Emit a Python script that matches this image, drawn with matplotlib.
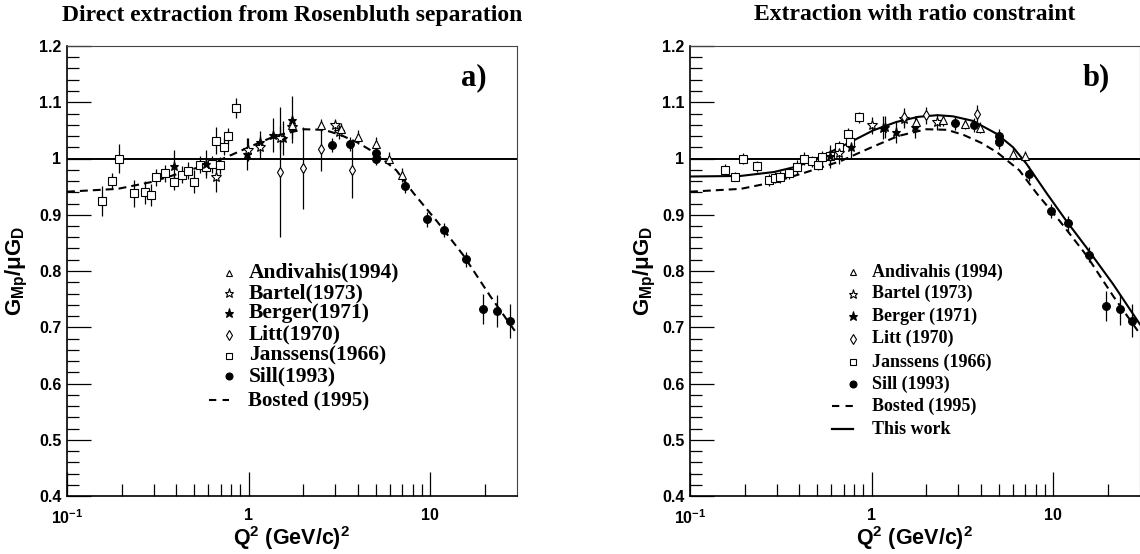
import matplotlib
matplotlib.use("Agg")
import matplotlib.pyplot as plt
from matplotlib.ticker import FixedLocator, FixedFormatter, NullFormatter

plt.rcParams["font.family"] = ["Liberation Sans", "DejaVu Sans"]
plt.rcParams["mathtext.fontset"] = "custom"
plt.rcParams["mathtext.rm"] = "Liberation Sans:bold"
plt.rcParams["mathtext.it"] = "Liberation Sans:bold"
plt.rcParams["mathtext.bf"] = "Liberation Sans:bold"

# ── Data ─────────────────────────────────────────────────────────────────────
# panel a) direct Rosenbluth extraction
a_janssens_x = [0.155, 0.177, 0.194, 0.234, 0.270, 0.290, 0.310, 0.347, 0.390, 0.430,
                0.463, 0.502, 0.540, 0.582, 0.626, 0.660, 0.698, 0.731, 0.772, 0.851]
a_janssens_y = [0.925, 0.960, 1.000, 0.938, 0.940, 0.935, 0.967, 0.974, 0.959, 0.971,
                0.978, 0.959, 0.989, 0.985, 0.990, 1.032, 0.988, 1.021, 1.040, 1.090]
a_janssens_e = [0.027, 0.015, 0.025, 0.024, 0.020, 0.020, 0.015, 0.015, 0.015, 0.015,
                0.015, 0.020, 0.015, 0.015, 0.015, 0.024, 0.015, 0.015, 0.015, 0.018]

a_berger_x = [0.388, 0.580, 0.975, 1.15, 1.37, 1.54, 1.74]
a_berger_y = [0.986, 0.990, 1.008, 1.029, 1.042, 1.037, 1.069]
a_berger_e = [0.030, 0.025, 0.028, 0.020, 0.030, 0.030, 0.042]

a_bartel_x = [0.660, 0.995, 1.16, 1.49, 1.74, 2.97, 3.14]
a_bartel_y = [0.967, 1.016, 1.020, 1.037, 1.056, 1.059, 1.047]
a_bartel_e = [0.027, 0.020, 0.020, 0.020, 0.020, 0.012, 0.012]

a_litt_x = [1.49, 2.00, 2.49, 3.72]
a_litt_y = [0.976, 0.983, 1.017, 0.979]
a_litt_e = [0.115, 0.073, 0.040, 0.050]

a_andivahis_x = [1.74, 2.49, 3.24, 4.01, 5.00, 5.94, 6.98]
a_andivahis_y = [1.060, 1.059, 1.052, 1.038, 1.026, 1.000, 0.971]
a_andivahis_e = [0.012, 0.012, 0.012, 0.012, 0.012, 0.012, 0.012]

a_sill_x = [2.86, 3.61, 5.02, 5.02, 7.28, 9.57, 11.9, 15.7, 19.4, 23.2, 27.4]
a_sill_y = [1.024, 1.026, 1.009, 1.000, 0.951, 0.892, 0.873, 0.821, 0.732, 0.729, 0.711]
a_sill_e = [0.012, 0.012, 0.012, 0.012, 0.013, 0.013, 0.013, 0.013, 0.027, 0.028, 0.030]

# panel b) extraction with the ratio constraint
b_janssens_x = [0.156, 0.178, 0.195, 0.233, 0.271, 0.294, 0.313, 0.351, 0.390, 0.426,
                0.468, 0.505, 0.535, 0.590, 0.664, 0.744, 0.762, 0.855]
b_janssens_y = [0.980, 0.968, 1.000, 0.986, 0.962, 0.966, 0.967, 0.974, 0.985, 1.000,
                0.995, 0.989, 1.002, 1.005, 1.020, 1.043, 1.030, 1.073]
b_janssens_e = [0.010, 0.008, 0.010, 0.010, 0.010, 0.010, 0.010, 0.010, 0.012, 0.012,
                0.010, 0.010, 0.012, 0.012, 0.012, 0.012, 0.012, 0.010]

b_berger_x = [0.590, 0.766, 1.16, 1.18, 1.37, 1.73]
b_berger_y = [1.004, 1.020, 1.055, 1.056, 1.047, 1.056]
b_berger_e = [0.020, 0.020, 0.020, 0.020, 0.020, 0.020]

b_bartel_x = [0.660, 1.00, 1.51, 2.30]
b_bartel_y = [1.010, 1.059, 1.070, 1.065]
b_bartel_e = [0.020, 0.015, 0.015, 0.015]

b_litt_x = [1.51, 2.00, 3.78]
b_litt_y = [1.074, 1.077, 1.080]
b_litt_e = [0.015, 0.015, 0.015]

b_andivahis_x = [1.75, 2.48, 3.26, 3.95, 5.00, 6.00, 6.98]
b_andivahis_y = [1.065, 1.068, 1.062, 1.055, 1.038, 1.008, 1.004]
b_andivahis_e = [0.010, 0.010, 0.010, 0.010, 0.010, 0.010, 0.010]

b_sill_x = [2.87, 3.66, 5.02, 5.02, 7.37, 9.65, 12.1, 15.8, 19.6, 23.2, 27.2]
b_sill_y = [1.063, 1.060, 1.040, 1.029, 0.973, 0.907, 0.885, 0.829, 0.738, 0.732, 0.712]
b_sill_e = [0.012, 0.012, 0.012, 0.012, 0.013, 0.013, 0.013, 0.013, 0.027, 0.028, 0.030]

# fit curves
bosted_x = [0.10, 0.19, 0.29, 0.44, 0.67, 1.00, 1.40, 2.00, 2.60, 3.20, 4.00, 4.90,
            6.50, 8.10, 10.9, 15.2, 21.4, 30.0]
bosted_y = [0.941, 0.946, 0.958, 0.976, 0.995, 1.020, 1.040, 1.052, 1.051, 1.042, 1.028, 1.011,
            0.979, 0.938, 0.888, 0.828, 0.755, 0.688]
thiswork_x = [0.10, 0.19, 0.29, 0.39, 0.54, 0.73, 1.02, 1.37, 1.80, 2.30, 2.80,
              3.60, 4.87, 6.00, 7.10, 9.20, 11.8, 15.2, 21.4, 30.0]
thiswork_y = [0.968, 0.969, 0.976, 0.986, 1.005, 1.026, 1.050, 1.065, 1.074, 1.077, 1.075,
              1.067, 1.044, 1.020, 0.991, 0.938, 0.889, 0.842, 0.776, 0.705]

x_ticklabels = [r"$10^{-1}$", "1", "10"]
y_ticks = [0.4, 0.5, 0.6, 0.7, 0.8, 0.9, 1.0, 1.1, 1.2]
y_ticklabels = ["0.4", "0.5", "0.6", "0.7", "0.8", "0.9", "1", "1.1", "1.2"]

STYLE = {  # marker, facecolor, size
    "andivahis": ("^", "white", 5.5),
    "bartel": ("*", "white", 7.5),
    "berger": ("*", "black", 6.5),
    "litt": ("d", "white", 5.0),
    "janssens": ("s", "white", 6.0),
    "sill": ("o", "black", 5.6),
}
DASH = (0, (3.8, 2.4))

W, H = 1140, 554
fig = plt.figure(figsize=(W / 100, H / 100), dpi=100)
ax_a = fig.add_axes([67 / W, 58 / H, 450 / W, 450 / H])
ax_b = fig.add_axes([690 / W, 58 / H, 450 / W, 450 / H])


def style_axes(ax):
    ax.set_xscale("log")
    ax.set_xlim(0.1, 30)
    ax.set_ylim(0.4, 1.2)
    ax.xaxis.set_major_locator(FixedLocator([0.1, 1, 10]))
    ax.xaxis.set_major_formatter(FixedFormatter(x_ticklabels))
    minors = [m * d for d in (0.1, 1, 10) for m in range(2, 10) if m * d < 30]
    ax.xaxis.set_minor_locator(FixedLocator(minors))
    ax.xaxis.set_minor_formatter(NullFormatter())
    ax.yaxis.set_major_locator(FixedLocator(y_ticks))
    ax.yaxis.set_major_formatter(FixedFormatter(y_ticklabels))
    ax.yaxis.set_minor_locator(FixedLocator([0.4 + 0.02 * i for i in range(41)]))
    ax.tick_params(which="both", direction="in", top=False, right=False, width=0.9)
    ax.tick_params(which="major", length=17.5, labelsize=11.5)
    ax.tick_params(which="minor", length=8.8)
    ax.tick_params(axis="x", which="major", pad=9)
    ax.tick_params(axis="y", which="major", pad=4)
    for lab in ax.get_xticklabels() + ax.get_yticklabels():
        lab.set_fontweight("bold")
    for s in ("left", "bottom"):
        ax.spines[s].set_linewidth(1.2)
    for s in ("top", "right"):
        ax.spines[s].set_linewidth(0.8)
        ax.spines[s].set_color("#444444")
    ax.axhline(1.0, color="black", lw=1.4, zorder=1)
    ax.text(0.5, -0.093, r"Q$^{2}$ (GeV/c)$^{2}$", transform=ax.transAxes,
            ha="center", va="center", fontsize=15.5, fontweight="bold")


def draw_points(ax, key, x, y, e):
    mk, fc, ms = STYLE[key]
    ax.errorbar(x, y, yerr=e, fmt=mk, mfc=fc, mec="black", mew=0.8, ms=ms,
                ecolor="black", elinewidth=0.9, capsize=0, zorder=3)


def legend_row(ax, yf, key, label, fs, xm, xt):
    mk, fc, _ = STYLE[key]
    ax.plot([xm], [yf], marker=mk, mfc=fc, mec="black", mew=0.8,
            ms=5 if mk != "*" else 6.5, ls="none", transform=ax.transAxes, clip_on=False)
    ax.text(xt, yf, label, transform=ax.transAxes, ha="left", va="center",
            fontsize=fs, fontweight="bold", family="Liberation Serif")


for ax in (ax_a, ax_b):
    style_axes(ax)

# panel a
ax_a.plot(bosted_x, bosted_y, color="black", lw=1.5, ls=DASH, zorder=2)
draw_points(ax_a, "janssens", a_janssens_x, a_janssens_y, a_janssens_e)
draw_points(ax_a, "berger", a_berger_x, a_berger_y, a_berger_e)
draw_points(ax_a, "bartel", a_bartel_x, a_bartel_y, a_bartel_e)
draw_points(ax_a, "litt", a_litt_x, a_litt_y, a_litt_e)
draw_points(ax_a, "andivahis", a_andivahis_x, a_andivahis_y, a_andivahis_e)
draw_points(ax_a, "sill", a_sill_x, a_sill_y, a_sill_e)

# panel b
ax_b.plot(bosted_x, bosted_y, color="black", lw=1.5, ls=DASH, zorder=2)
ax_b.plot(thiswork_x, thiswork_y, color="black", lw=1.5, zorder=2)
draw_points(ax_b, "janssens", b_janssens_x, b_janssens_y, b_janssens_e)
draw_points(ax_b, "berger", b_berger_x, b_berger_y, b_berger_e)
draw_points(ax_b, "bartel", b_bartel_x, b_bartel_y, b_bartel_e)
draw_points(ax_b, "litt", b_litt_x, b_litt_y, b_litt_e)
draw_points(ax_b, "andivahis", b_andivahis_x, b_andivahis_y, b_andivahis_e)
draw_points(ax_b, "sill", b_sill_x, b_sill_y, b_sill_e)

# legends
rows_a = [("andivahis", "Andivahis(1994)"), ("bartel", "Bartel(1973)"),
          ("berger", "Berger(1971)"), ("litt", "Litt(1970)"),
          ("janssens", "Janssens(1966)"), ("sill", "Sill(1993)")]
ys_a = [0.496, 0.451, 0.407, 0.358, 0.312, 0.266]
for (k, lab), yf in zip(rows_a, ys_a):
    legend_row(ax_a, yf, k, lab, 15.5, 0.360, 0.404)
ax_a.plot([0.316, 0.359], [0.213, 0.213], color="black", lw=1.5, ls=(0, (3.5, 3.0)),
          transform=ax_a.transAxes, clip_on=False)
ax_a.text(0.402, 0.213, "Bosted (1995)", transform=ax_a.transAxes, ha="left", va="center",
          fontsize=15, fontweight="bold", family="Liberation Serif")

rows_b = [("andivahis", "Andivahis (1994)"), ("bartel", "Bartel (1973)"),
          ("berger", "Berger (1971)"), ("litt", "Litt (1970)"),
          ("janssens", "Janssens (1966)"), ("sill", "Sill (1993)")]
ys_b = [0.498, 0.450, 0.400, 0.350, 0.298, 0.249]
for (k, lab), yf in zip(rows_b, ys_b):
    legend_row(ax_b, yf, k, lab, 13, 0.363, 0.404)
ax_b.plot([0.315, 0.363], [0.200, 0.200], color="black", lw=1.5, ls=(0, (3.5, 3.0)),
          transform=ax_b.transAxes, clip_on=False)
ax_b.text(0.404, 0.200, "Bosted (1995)", transform=ax_b.transAxes, ha="left", va="center",
          fontsize=13, fontweight="bold", family="Liberation Serif")
ax_b.plot([0.315, 0.363], [0.148, 0.148], color="black", lw=1.6,
          transform=ax_b.transAxes, clip_on=False)
ax_b.text(0.404, 0.148, "This work", transform=ax_b.transAxes, ha="left", va="center",
          fontsize=13, fontweight="bold", family="Liberation Serif")

# panel tags, titles, y titles
for ax, tag in ((ax_a, "a)"), (ax_b, "b)")):
    ax.text(0.933, 0.929, tag, transform=ax.transAxes, ha="right", va="center",
            fontsize=22, fontweight="bold", family="Liberation Serif")

fig.text(292 / W, 1 - 15 / H, "Direct extraction from Rosenbluth separation",
         ha="center", va="center", fontsize=17, fontweight="bold", family="Liberation Serif")
fig.text(915 / W, 1 - 15 / H, "Extraction with ratio constraint",
         ha="center", va="center", fontsize=17, fontweight="bold", family="Liberation Serif")

ylab = r"$\mathrm{G_{Mp}/\mu G_{D}}$"
fig.text(17 / W, 1 - 271 / H, ylab, rotation=90, ha="center", va="center", fontsize=16)
fig.text(645 / W, 1 - 271 / H, ylab, rotation=90, ha="center", va="center", fontsize=16)

fig.savefig("out.png", dpi=100)
